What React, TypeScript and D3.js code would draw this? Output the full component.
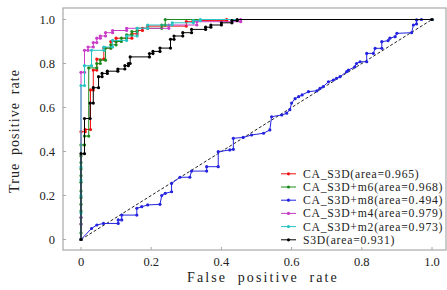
import React from 'react';
import * as d3 from 'd3';

type Pt = [number, number];

const xTicks = [0, 0.2, 0.4, 0.6, 0.8, 1.0];
const yTicks = [0, 0.2, 0.4, 0.6, 0.8, 1.0];
const tickLabels = ['0', '0.2', '0.4', '0.6', '0.8', '1.0'];

const caS3D: Pt[] = [
  [0, 0], [0, 0.49], [0.012, 0.49], [0.012, 0.5], [0.027, 0.5], [0.027, 0.68], [0.035, 0.68],
  [0.035, 0.77], [0.045, 0.77], [0.045, 0.82], [0.065, 0.82], [0.065, 0.87], [0.085, 0.87],
  [0.085, 0.9], [0.1, 0.9], [0.1, 0.915], [0.145, 0.915], [0.145, 0.935], [0.16, 0.935],
  [0.16, 0.95], [0.175, 0.95], [0.175, 0.96], [0.19, 0.96], [0.19, 0.97], [0.3, 0.97],
  [0.3, 0.99], [0.32, 0.99], [0.32, 0.995], [0.415, 0.995], [0.415, 1], [1, 1],
];

const caS3Dm6: Pt[] = [
  [0, 0], [0, 0.03], [0, 0.07], [0, 0.1], [0, 0.13], [0, 0.16], [0, 0.19], [0, 0.22], [0, 0.26],
  [0, 0.29], [0, 0.32], [0, 0.35], [0, 0.38], [0, 0.43], [0.01, 0.43], [0.01, 0.47],
  [0.022, 0.47], [0.022, 0.78], [0.045, 0.78], [0.045, 0.8], [0.055, 0.8], [0.055, 0.815],
  [0.07, 0.815], [0.07, 0.87], [0.085, 0.87], [0.085, 0.885], [0.1, 0.885], [0.1, 0.9],
  [0.115, 0.9], [0.115, 0.915], [0.13, 0.915], [0.13, 0.93], [0.145, 0.93], [0.145, 0.945],
  [0.16, 0.945], [0.16, 0.96], [0.23, 0.96], [0.23, 0.975], [0.24, 0.975], [0.24, 1], [1, 1],
];

const caS3Dm8: Pt[] = [
  [0, 0], [0.03, 0.05], [0.045, 0.066], [0.064, 0.073], [0.106, 0.073], [0.106, 0.089],
  [0.116, 0.089], [0.116, 0.111], [0.159, 0.111], [0.159, 0.142], [0.173, 0.149], [0.19, 0.157],
  [0.225, 0.16], [0.23, 0.2], [0.24, 0.21], [0.258, 0.217], [0.258, 0.255], [0.282, 0.283],
  [0.31, 0.283], [0.315, 0.311], [0.358, 0.311], [0.358, 0.331], [0.391, 0.331], [0.391, 0.399],
  [0.424, 0.407], [0.434, 0.41], [0.434, 0.46], [0.462, 0.464], [0.486, 0.475], [0.52, 0.483],
  [0.538, 0.498], [0.543, 0.558], [0.572, 0.566], [0.586, 0.574], [0.595, 0.59], [0.6, 0.62],
  [0.61, 0.64], [0.62, 0.649], [0.63, 0.657], [0.648, 0.672], [0.672, 0.676], [0.681, 0.687],
  [0.69, 0.695], [0.705, 0.717], [0.719, 0.725], [0.728, 0.733], [0.738, 0.74], [0.757, 0.763],
  [0.762, 0.77], [0.78, 0.785], [0.785, 0.8], [0.795, 0.808], [0.814, 0.808], [0.814, 0.846],
  [0.833, 0.846], [0.838, 0.869], [0.857, 0.869], [0.857, 0.899], [0.875, 0.904], [0.88, 0.915],
  [0.895, 0.922], [0.9, 0.937], [0.942, 0.94], [0.947, 0.975], [0.956, 0.98], [0.956, 0.998],
  [0.97, 1], [1, 1],
];

const caS3Dm4: Pt[] = [
  [0, 0], [0, 0.07], [0, 0.1], [0, 0.76], [0.01, 0.76], [0.01, 0.86], [0.02, 0.86], [0.02, 0.875],
  [0.035, 0.875], [0.035, 0.895], [0.045, 0.895], [0.045, 0.915], [0.055, 0.915], [0.055, 0.925],
  [0.07, 0.925], [0.07, 0.94], [0.09, 0.94], [0.09, 0.95], [0.13, 0.95], [0.13, 0.96],
  [0.25, 0.96], [0.25, 0.975], [0.33, 0.975], [0.33, 0.99], [0.455, 0.99], [0.455, 1], [1, 1],
];

const caS3Dm2: Pt[] = [
  [0, 0], [0, 0.12], [0, 0.2], [0, 0.27], [0, 0.33], [0, 0.7], [0.01, 0.7], [0.01, 0.79],
  [0.03, 0.79], [0.03, 0.86], [0.065, 0.86], [0.065, 0.875], [0.09, 0.875], [0.09, 0.905],
  [0.13, 0.905], [0.13, 0.925], [0.16, 0.925], [0.16, 0.96], [0.19, 0.96], [0.19, 0.975],
  [0.26, 0.975], [0.26, 0.985], [0.32, 0.985], [0.32, 0.995], [0.34, 0.995], [0.34, 1], [1, 1],
];

const s3d: Pt[] = [
  [0, 0], [0, 0.39], [0.01, 0.39], [0.01, 0.55], [0.026, 0.55], [0.026, 0.62], [0.035, 0.62],
  [0.035, 0.69], [0.05, 0.69], [0.05, 0.74], [0.06, 0.74], [0.06, 0.755], [0.075, 0.755],
  [0.075, 0.765], [0.105, 0.765], [0.105, 0.775], [0.125, 0.775], [0.125, 0.79], [0.135, 0.79],
  [0.135, 0.8], [0.14, 0.8], [0.14, 0.83], [0.195, 0.83], [0.195, 0.845], [0.205, 0.845],
  [0.205, 0.855], [0.225, 0.855], [0.225, 0.87], [0.255, 0.87], [0.255, 0.91], [0.265, 0.91],
  [0.265, 0.925], [0.29, 0.925], [0.29, 0.94], [0.315, 0.94], [0.315, 0.955], [0.355, 0.955],
  [0.355, 0.965], [0.37, 0.965], [0.37, 0.975], [0.4, 0.975], [0.4, 0.985], [0.43, 0.985],
  [0.43, 0.995], [0.445, 0.995], [0.445, 1], [1, 1],
];

const seriesNames = [
  'CA_S3D(area=0.965)',
  'CA_S3D+m6(area=0.968)',
  'CA_S3D+m8(area=0.494)',
  'CA_S3D+m4(area=0.979)',
  'CA_S3D+m2(area=0.973)',
  'S3D(area=0.931)',
];
const seriesData = [caS3D, caS3Dm6, caS3Dm8, caS3Dm4, caS3Dm2, s3d];
const seriesColors = ['#f01010', '#1e8a1e', '#2424e0', '#c83cc8', '#28c4c4', '#000000'];

const W = 447;
const H = 290;
const frame = { left: 63, top: 8, right: 446, bottom: 250 };
const serif = "'Liberation Serif', 'Times New Roman', 'DejaVu Serif', serif";

export default function App() {
  const x = d3.scaleLinear().domain([0, 1]).range([81, 432]);
  const y = d3.scaleLinear().domain([0, 1]).range([239.5, 19.5]);
  const line = d3
    .line<Pt>()
    .x((d) => x(d[0]))
    .y((d) => y(d[1]));

  const legendX = 281;
  const legendY = d3.scaleLinear().domain([0, 5]).range([173.8, 239.8]);
  const textStyle = { fontFamily: serif };

  return (
    <svg
      width={W}
      height={H}
      style={{ position: 'absolute', left: 0, top: 0, background: '#fff' }}
    >
      <rect x={0} y={0} width={W} height={H} fill="#fff" />
      <rect
        x={frame.left}
        y={frame.top}
        width={frame.right - frame.left}
        height={frame.bottom - frame.top}
        fill="none"
        stroke="#a8a8a8"
        strokeWidth={1.2}
      />
      {xTicks.map((t, i) => (
        <g key={'x' + i}>
          <line x1={x(t)} x2={x(t)} y1={frame.bottom} y2={frame.bottom - 3} stroke="#a8a8a8" />
          <text x={x(t)} y={266} fontSize={12.5} textAnchor="middle" fill="#222" style={textStyle}>
            {tickLabels[i]}
          </text>
        </g>
      ))}
      {yTicks.map((t, i) => (
        <g key={'y' + i}>
          <line x1={frame.left} x2={frame.left + 3} y1={y(t)} y2={y(t)} stroke="#a8a8a8" />
          <text x={55} y={y(t) + 4} fontSize={12.5} textAnchor="end" fill="#222" style={textStyle}>
            {tickLabels[i]}
          </text>
        </g>
      ))}
      <text
        x={263}
        y={282}
        fontSize={14}
        textAnchor="middle"
        fill="#222"
        letterSpacing={2.1}
        wordSpacing={5}
        style={textStyle}
      >
        False positive rate
      </text>
      <text
        transform={`translate(19,131) rotate(-90)`}
        fontSize={14}
        textAnchor="middle"
        fill="#222"
        letterSpacing={1.1}
        wordSpacing={3}
        style={textStyle}
      >
        True positive rate
      </text>

      <path
        d={line([[0, 0], [1, 1]] as Pt[]) || ''}
        fill="none"
        stroke="#222"
        strokeWidth={1}
        strokeDasharray="3,2"
      />

      {seriesData.map((data, si) => (
        <g key={'s' + si}>
          <path d={line(data) || ''} fill="none" stroke={seriesColors[si]} strokeWidth={1} />
          {data.map((d, j) => (
            <circle key={j} cx={x(d[0])} cy={y(d[1])} r={1.6} fill={seriesColors[si]} />
          ))}
        </g>
      ))}

      {seriesNames.map((name, i) => (
        <g key={'l' + i}>
          <line
            x1={legendX}
            x2={legendX + 15}
            y1={legendY(i)}
            y2={legendY(i)}
            stroke={seriesColors[i]}
            strokeWidth={1}
          />
          <circle cx={legendX + 7.5} cy={legendY(i)} r={1.6} fill={seriesColors[i]} />
          <text
            x={303}
            y={legendY(i) + 4}
            fontSize={11.7}
            letterSpacing={0.75}
            fill="#222"
            style={textStyle}
          >
            {name}
          </text>
        </g>
      ))}
    </svg>
  );
}
